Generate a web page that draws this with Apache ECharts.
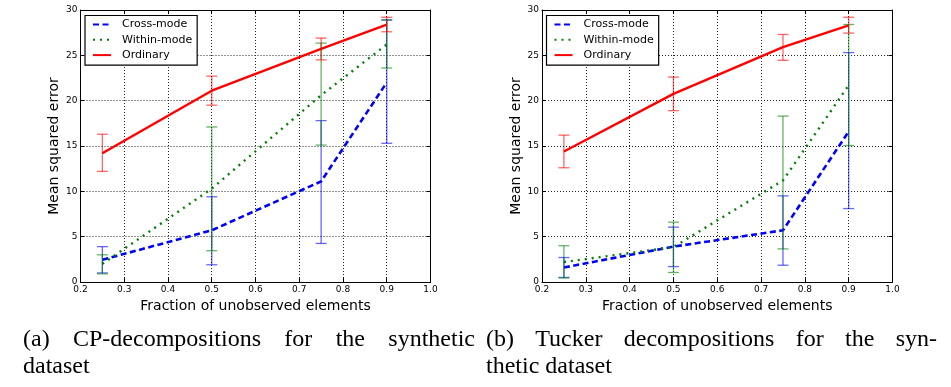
<!DOCTYPE html>
<html>
<head>
<meta charset="utf-8">
<script src="https://cdn.jsdelivr.net/npm/echarts@6/dist/echarts.min.js"></script>
<style>
html,body{margin:0;padding:0;background:#fff;}
#chart{width:951px;height:387px;}
</style>
</head>
<body>
<div id="chart"></div>
<script>
// ---------- data ----------
var xFractions = [0.25, 0.5, 0.75, 0.9];
var seriesNames = ['Cross-mode', 'Within-mode', 'Ordinary'];

// (a) CP-decompositions
var cpCross      = [2.45, 5.7, 11.1, 22.0];
var cpCrossLow   = [1.0, 1.9, 4.25, 15.3];
var cpCrossHigh  = [3.9, 9.4, 17.8, 28.9];
var cpWithin     = [2.0, 10.3, 20.6, 26.2];
var cpWithinLow  = [0.9, 3.45, 15.1, 23.6];
var cpWithinHigh = [3.0, 17.1, 26.35, 28.9];
var cpOrd        = [14.2, 21.1, 25.7, 28.4];
var cpOrdLow     = [12.2, 19.5, 24.5, 27.6];
var cpOrdHigh    = [16.3, 22.7, 26.9, 29.2];

// (b) Tucker decompositions
var tkCross      = [1.6, 3.9, 5.7, 16.6];
var tkCrossLow   = [0.5, 1.7, 1.85, 8.1];
var tkCrossHigh  = [2.7, 6.05, 9.5, 25.3];
var tkWithin     = [2.2, 3.85, 11.2, 21.7];
var tkWithinLow  = [0.45, 1.05, 3.65, 15.05];
var tkWithinHigh = [4.0, 6.6, 18.3, 28.4];
var tkOrd        = [14.4, 20.75, 25.9, 28.3];
var tkOrdLow     = [12.6, 18.9, 24.45, 27.45];
var tkOrdHigh    = [16.2, 22.6, 27.3, 29.2];

var xTickMin = 0.2, xTickMax = 1.0, xTickStep = 0.1;
var yTickMin = 0, yTickMax = 30, yTickStep = 5;

var xAxisTitle = 'Fraction of unobserved elements';
var yAxisTitle = 'Mean squared error';
var captionA1 = ['(a)', 'CP-decompositions', 'for', 'the', 'synthetic'];
var captionA2 = 'dataset';
var captionB1 = ['(b)', 'Tucker', 'decompositions', 'for', 'the', 'syn-'];
var captionB2 = 'thetic dataset';

// ---------- styles ----------
var SANS = '"DejaVu Sans", sans-serif';
var colors = {'Cross-mode': '#0000ff', 'Within-mode': '#008000', 'Ordinary': '#ff0000'};
var errColors = {'Cross-mode': 'rgba(0,0,255,0.6)', 'Within-mode': 'rgba(0,128,0,0.6)', 'Ordinary': 'rgba(255,0,0,0.6)'};
var lineStyles = {
  'Cross-mode': {width: 2.6, type: [6, 3.5], color: '#0000ff'},
  'Within-mode': {width: 2.4, type: [2, 5], color: '#008000'},
  'Ordinary': {width: 2.4, type: 'solid', color: '#ff0000'}
};

function zip2(xs, ys) { return xs.map(function (x, i) { return [x, ys[i]]; }); }
function zip3(xs, a, b) { return xs.map(function (x, i) { return [x, a[i], b[i]]; }); }

function errRender(color) {
  return function (params, api) {
    var x = api.value(0), lo = api.value(1), hi = api.value(2);
    var pLo = api.coord([x, lo]);
    var pHi = api.coord([x, hi]);
    var w = 5.5;
    var st = {stroke: color, lineWidth: 1.3, fill: null};
    return {type: 'group', children: [
      {type: 'line', shape: {x1: pLo[0], y1: pLo[1], x2: pHi[0], y2: pHi[1]}, style: st},
      {type: 'line', shape: {x1: pLo[0] - w, y1: pLo[1], x2: pLo[0] + w, y2: pLo[1]}, style: st},
      {type: 'line', shape: {x1: pHi[0] - w, y1: pHi[1], x2: pHi[0] + w, y2: pHi[1]}, style: st}
    ]};
  };
}

var grids = [
  {left: 80.5, top: 10, width: 350, height: 272},
  {left: 542, top: 10, width: 350.5, height: 272}
];

var xAxes = [], yAxes = [];
grids.forEach(function (g, gi) {
  xAxes.push({
    type: 'value', gridIndex: gi, min: xTickMin, max: xTickMax, interval: xTickStep,
    position: 'bottom',
    name: xAxisTitle, nameLocation: 'middle', nameGap: 11,
    nameTextStyle: {fontFamily: SANS, fontSize: 14, color: '#000'},
    axisLine: {show: true, onZero: false, lineStyle: {color: '#000', width: 1}},
    axisTick: {show: true, inside: true, length: 4, lineStyle: {color: '#000'}},
    axisLabel: {show: true, margin: 3, fontFamily: SANS, fontSize: 9, color: '#000',
      showMinLabel: true, showMaxLabel: true,
      formatter: function (v) { return v.toFixed(1); }},
    splitLine: {show: true, lineStyle: {color: '#222', width: 1, type: [1, 2]}}
  });
  xAxes.push({
    type: 'value', gridIndex: gi, min: xTickMin, max: xTickMax, interval: xTickStep,
    position: 'top',
    axisLine: {show: true, onZero: false, lineStyle: {color: '#000', width: 1}},
    axisTick: {show: true, inside: true, length: 4, lineStyle: {color: '#000'}},
    axisLabel: {show: false}, splitLine: {show: false}
  });
  yAxes.push({
    type: 'value', gridIndex: gi, min: yTickMin, max: yTickMax, interval: yTickStep,
    position: 'left',
    name: yAxisTitle, nameLocation: 'middle', nameGap: 19,
    nameTextStyle: {fontFamily: SANS, fontSize: 14, color: '#000'},
    axisLine: {show: true, onZero: false, lineStyle: {color: '#000', width: 1}},
    axisTick: {show: true, inside: true, length: 4, lineStyle: {color: '#000'}},
    axisLabel: {show: true, margin: 3, fontFamily: SANS, fontSize: 9, color: '#000'},
    splitLine: {show: true, lineStyle: {color: '#222', width: 1, type: [1, 2]}}
  });
  yAxes.push({
    type: 'value', gridIndex: gi, min: yTickMin, max: yTickMax, interval: yTickStep,
    position: 'right',
    axisLine: {show: true, onZero: false, lineStyle: {color: '#000', width: 1}},
    axisTick: {show: true, inside: true, length: 4, lineStyle: {color: '#000'}},
    axisLabel: {show: false}, splitLine: {show: false}
  });
});

var panels = [
  {grid: 0, sets: [
    ['Cross-mode', cpCross, cpCrossLow, cpCrossHigh],
    ['Within-mode', cpWithin, cpWithinLow, cpWithinHigh],
    ['Ordinary', cpOrd, cpOrdLow, cpOrdHigh]]},
  {grid: 1, sets: [
    ['Cross-mode', tkCross, tkCrossLow, tkCrossHigh],
    ['Within-mode', tkWithin, tkWithinLow, tkWithinHigh],
    ['Ordinary', tkOrd, tkOrdLow, tkOrdHigh]]}
];

var series = [];
panels.forEach(function (p) {
  p.sets.forEach(function (s) {
    var name = s[0];
    series.push({
      type: 'line', name: name, xAxisIndex: p.grid * 2, yAxisIndex: p.grid * 2,
      data: zip2(xFractions, s[1]), symbol: 'none', silent: true, animation: false,
      lineStyle: lineStyles[name], itemStyle: {color: colors[name]}, z: 3
    });
  });
  p.sets.forEach(function (s) {
    var name = s[0];
    series.push({
      type: 'custom', name: name + ' error', xAxisIndex: p.grid * 2, yAxisIndex: p.grid * 2,
      data: zip3(xFractions, s[2], s[3]), encode: {x: 0, y: [1, 2]},
      renderItem: errRender(errColors[name]), silent: true, animation: false, z: 4
    });
  });
});

function legendAt(left) {
  return {
    show: true, orient: 'vertical', left: left, top: 15.5,
    data: seriesNames, selectedMode: false,
    backgroundColor: '#fff', borderColor: '#000', borderWidth: 1.2, borderRadius: 0,
    padding: [3.5, 5, 4.5, 7], itemWidth: 18, itemHeight: 12, itemGap: 4.3,
    itemStyle: {color: 'rgba(0,0,0,0)', borderColor: 'rgba(0,0,0,0)', borderWidth: 0, opacity: 0},
    textStyle: {fontFamily: SANS, fontSize: 11, color: '#000', padding: [0, 0, 0, 6]}
  };
}

// ---------- captions (justified word placement) ----------
var measureCtx = document.createElement('canvas').getContext('2d');
var capFont = 24;
var capFontStr = capFont + 'px "Liberation Serif"';
measureCtx.font = capFontStr;
function justify(words, x0, x1, y) {
  var widths = words.map(function (w) { return measureCtx.measureText(w).width; });
  var total = widths.reduce(function (a, b) { return a + b; }, 0);
  var gap = (x1 - x0 - total) / (words.length - 1);
  var out = [], x = x0;
  words.forEach(function (w, i) {
    out.push({type: 'text', left: x, top: y, silent: true,
      style: {text: w, font: capFontStr, fill: '#000'}});
    x += widths[i] + gap;
  });
  return out;
}
var graphics = [].concat(
  justify(captionA1, 23, 475, 328),
  justify(captionB1, 486, 937, 328),
  [{type: 'text', left: 23, top: 355, silent: true, style: {text: captionA2, font: capFontStr, fill: '#000'}},
   {type: 'text', left: 486, top: 355, silent: true, style: {text: captionB2, font: capFontStr, fill: '#000'}}]
);

var chart = echarts.init(document.getElementById('chart'), null, {renderer: 'canvas'});
chart.setOption({
  animation: false,
  backgroundColor: '#fff',
  grid: grids.map(function (g) { return Object.assign({show: false, containLabel: false}, g); }),
  xAxis: xAxes,
  yAxis: yAxes,
  legend: [legendAt(85), legendAt(546.5)],
  series: series,
  graphic: graphics
});
</script>
</body>
</html>
